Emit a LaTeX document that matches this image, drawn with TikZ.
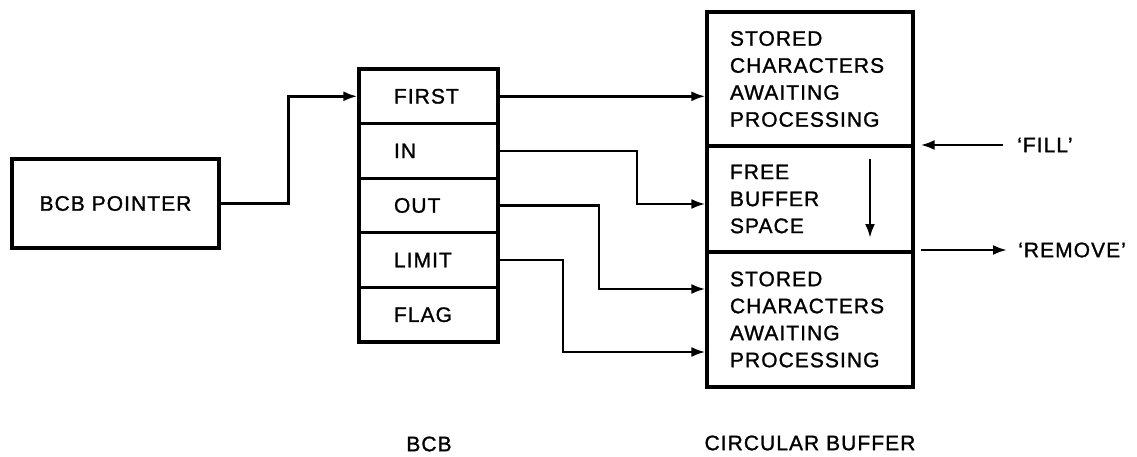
\documentclass[tikz,border=0pt]{standalone}
\usepackage{fontspec}
\setmainfont[LetterSpace=5,FakeBold=1.2]{Liberation Sans}
\usetikzlibrary{arrows.meta,calc}
\begin{document}
\begin{tikzpicture}[x=1pt,y=-1pt,
  lbl/.style={font=\fontsize{21}{27}\selectfont, inner sep=0pt},
  box/.style={draw, line width=3.2pt, font=\fontsize{21}{27}\selectfont},
  row/.style={box, minimum width=139pt, minimum height=54.6pt, text width=69pt, inner xsep=35pt, inner ysep=0pt, align=left},
  sect/.style={box, minimum width=206pt, text width=160pt, inner xsep=23pt, inner ysep=0pt, align=left},
  arr/.style={line width=2.6pt, -{Latex[length=14pt,width=10pt]}},
  ln/.style={line width=2.6pt}]
\useasboundingbox (0,0) rectangle (1137,457);

% BCB pointer
\node[box, minimum width=207pt, minimum height=89pt, inner sep=0pt] (ptr) at (115.5,203.5) {BCB POINTER};

% BCB rows
\node[row] (first) at (428.5,96.3) {FIRST};
\node[row] (in)    at (428.5,150.9) {IN};
\node[row] (out)   at (428.5,205.5) {OUT};
\node[row] (limit) at (428.5,260.1) {LIMIT};
\node[row] (flag)  at (428.5,314.7) {FLAG};

% circular buffer sections
\node[sect, minimum height=134pt] (buf1) at (810,79) {STORED\\CHARACTERS\\AWAITING\\PROCESSING};
\node[sect, minimum height=106pt] (buf2) at (810,199) {FREE\\BUFFER\\SPACE};
\node[sect, minimum height=135pt] (buf3) at (810,319.5) {STORED\\CHARACTERS\\AWAITING\\PROCESSING};

% labels
\node[lbl, anchor=west] (fill) at (1017,145) {‘FILL’};
\node[lbl, anchor=west] (remove) at (1018,250) {‘REMOVE’};
\node[lbl] (bcblbl) at (429,444) {BCB};
\node[lbl] (cblbl) at (810,443) {CIRCULAR BUFFER};

% connectors
\draw[arr] (ptr.east) -- ++(68,0) |- (first.west);
\draw[arr] (first.east) -- (first.east -| buf1.west);
\draw[arr] (in.east) -| (637,204) -- (buf2.west |- 0,204);
\draw[arr] (out.east) -| (599,289) -- (buf3.west |- 0,289);
\draw[arr] (limit.east) -| (563,352) -- (buf3.west |- 0,352);

\draw[arr] ([xshift=-14pt]fill.west) -- ([xshift=6pt]fill.west -| buf1.east);
\draw[arr] ([xshift=6pt]remove.west -| buf2.east) -- ([xshift=-11pt]remove.west);

\coordinate (dtop) at (870,159);
\coordinate (dbot) at (870,238);
\draw[arr] (dtop) -- (dbot);
\end{tikzpicture}
\end{document}
